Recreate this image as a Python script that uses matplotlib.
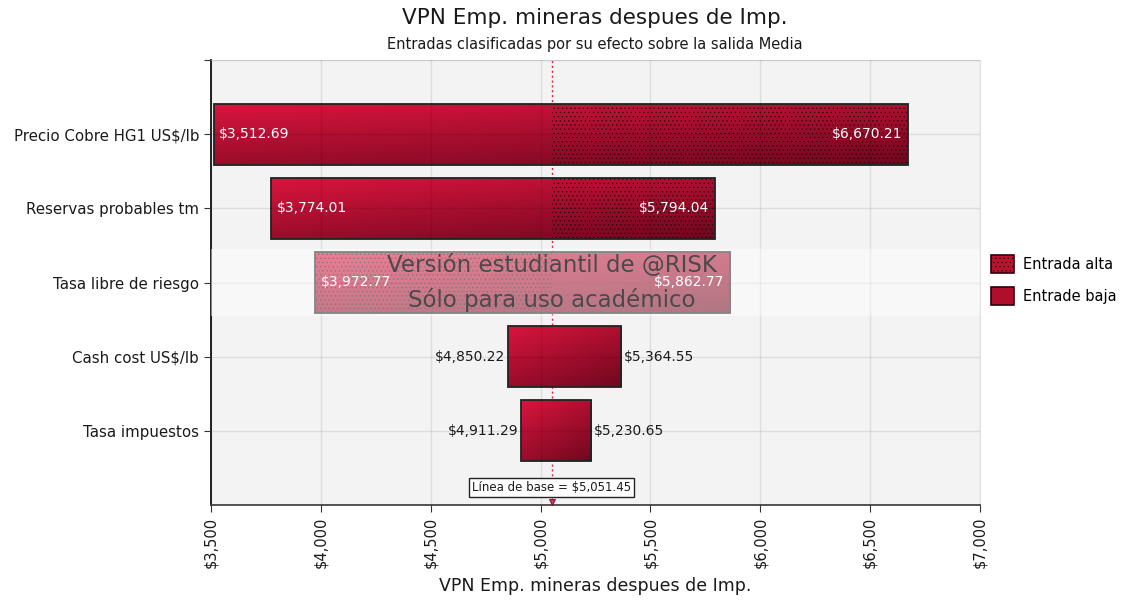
import numpy as np
import matplotlib
matplotlib.use('Agg')
import matplotlib.pyplot as plt
from matplotlib.patches import Rectangle, Patch
from matplotlib.ticker import FuncFormatter

# data
inputs = ['Precio Cobre HG1 US$/lb', 'Reservas probables tm', 'Tasa libre de riesgo',
          'Cash cost US$/lb', 'Tasa impuestos']
low_vals = [3512.69, 3774.01, 3972.77, 4850.22, 4911.29]
high_vals = [6670.21, 5794.04, 5862.77, 5364.55, 5230.65]
hatch_side = ['right', 'right', 'left', None, None]
baseline = 5051.45
x_ticks = [3500, 4000, 4500, 5000, 5500, 6000, 6500, 7000]

title = 'VPN Emp. mineras despues de Imp.'
subtitle = 'Entradas clasificadas por su efecto sobre la salida Media'
xlabel = 'VPN Emp. mineras despues de Imp.'

c_top = np.array([0.85, 0.08, 0.24])
c_bot = np.array([0.44, 0.03, 0.12])
dark = '#1a1a1a'

plt.rcParams['font.family'] = ['DejaVu Sans']
plt.rcParams['hatch.linewidth'] = 0.45

fig = plt.figure(figsize=(11.26, 6.02), dpi=100)
ax = fig.add_axes([211 / 1126, 1 - 505 / 602, 769 / 1126, 445 / 602])
ax.set_facecolor('#f3f3f3')

n = len(inputs)
ys = [n - i for i in range(n)]
bar_h = 0.82

# gradient template (row 0 = top of bar)
gx, gy = np.meshgrid(np.linspace(0, 1, 200), np.linspace(0, 1, 40))
t = 0.6 * gy + 0.4 * gx
grad = c_top[None, None, :] * (1 - t[..., None]) + c_bot[None, None, :] * t[..., None]

ax.axvline(baseline, color='#e0204a', lw=1, ls=(0, (1.5, 2)), zorder=1)

for i, y in enumerate(ys):
    lo, hi = low_vals[i], high_vals[i]
    y0, y1 = y - bar_h / 2, y + bar_h / 2
    ax.imshow(grad, extent=[lo, hi, y0, y1], origin='upper', aspect='auto',
              interpolation='bilinear', zorder=1.5)
    if hatch_side[i] == 'right':
        ax.add_patch(Rectangle((baseline, y0), hi - baseline, bar_h, facecolor='none',
                               edgecolor='#30000a', lw=0, hatch='....', zorder=1.8))
    elif hatch_side[i] == 'left':
        ax.add_patch(Rectangle((lo, y0), baseline - lo, bar_h, facecolor='none',
                               edgecolor='#30000a', lw=0, hatch='....', zorder=1.8))
    ax.add_patch(Rectangle((lo, y0), hi - lo, bar_h, facecolor='none',
                           edgecolor='#222222', lw=1.3, zorder=2))
    lo_txt = '${:,.2f}'.format(lo)
    hi_txt = '${:,.2f}'.format(hi)
    if i < 3:
        ax.annotate(lo_txt, (lo, y), xytext=(4, 0), textcoords='offset points',
                    ha='left', va='center', color='white', fontsize=10, zorder=3)
        ax.annotate(hi_txt, (hi, y), xytext=(-4, 0), textcoords='offset points',
                    ha='right', va='center', color='white', fontsize=10, zorder=3)
    else:
        ax.annotate(lo_txt, (lo, y), xytext=(-2, 0), textcoords='offset points',
                    ha='right', va='center', color=dark, fontsize=10, zorder=3)
        ax.annotate(hi_txt, (hi, y), xytext=(2, 0), textcoords='offset points',
                    ha='left', va='center', color=dark, fontsize=10, zorder=3)

# watermark band over the third row
wm_y = ys[2]
ax.add_patch(Rectangle((0, wm_y - 0.455), 1, 0.91, transform=ax.get_yaxis_transform(),
                       facecolor='white', alpha=0.45, lw=0, zorder=6))
ax.text(5050, wm_y + 0.23, 'Versión estudiantil de @RISK', ha='center', va='center',
        fontsize=16.5, color='#4a4a4a', zorder=7)
ax.text(5050, wm_y - 0.23, 'Sólo para uso académico', ha='center', va='center',
        fontsize=16.5, color='#4a4a4a', zorder=7)

# baseline label and marker
ax.text(baseline, 0.23, 'Línea de base = ${:,.2f}'.format(baseline), ha='center', va='center',
        fontsize=8.5, color=dark, zorder=7,
        bbox=dict(boxstyle='square,pad=0.25', facecolor='white', edgecolor='#222222', lw=1))
ax.plot([baseline], [0.04], marker='v', ms=5, color='#e03060', mec='#5a1020', mew=0.6,
        zorder=8, clip_on=False)

ax.set_xlim(x_ticks[0], x_ticks[-1])
ax.set_ylim(0, n + 1)
ax.set_xticks(x_ticks)
ax.xaxis.set_major_formatter(FuncFormatter(lambda v, p: '${:,.0f}'.format(v)))
ax.tick_params(axis='x', rotation=90, labelsize=10.5, length=5, color='#333333',
               labelcolor=dark)
ax.set_yticks(ys + [n + 1])
ax.set_yticklabels(inputs + [''])
ax.tick_params(axis='y', labelsize=10.8, length=5, color='#333333', labelcolor=dark)

ax.grid(True, color='black', alpha=0.09, lw=1)
ax.set_axisbelow(False)
for g in ax.get_xgridlines() + ax.get_ygridlines():
    g.set_zorder(2.5)

ax.spines['left'].set_color('#111111')
ax.spines['left'].set_linewidth(1.3)
ax.spines['bottom'].set_color('#444444')
ax.spines['bottom'].set_linewidth(1.3)
ax.spines['top'].set_color('#e0e0e0')
ax.spines['right'].set_color('#e0e0e0')

ax.set_xlabel(xlabel, fontsize=12.5, color=dark, labelpad=6)

fig.text(0.528, 1 - 18 / 602, title, ha='center', va='center', fontsize=15.5, color=dark)
fig.text(0.528, 1 - 44 / 602, subtitle, ha='center', va='center', fontsize=10.5, color=dark)

handles = [Patch(facecolor='#c0102f', edgecolor='#30000a', hatch='....', lw=1.2),
           Patch(facecolor='#b00e2d', edgecolor='#30000a', lw=1.2)]
fig.legend(handles, ['Entrada alta', 'Entrade baja'], loc='center left',
           bbox_to_anchor=(978 / 1126, 1 - 280 / 602), frameon=False, fontsize=10.5,
           handlelength=1.6, handleheight=1.6, labelspacing=0.9, handletextpad=0.6)

fig.savefig('out.png', dpi=100, facecolor='white')
